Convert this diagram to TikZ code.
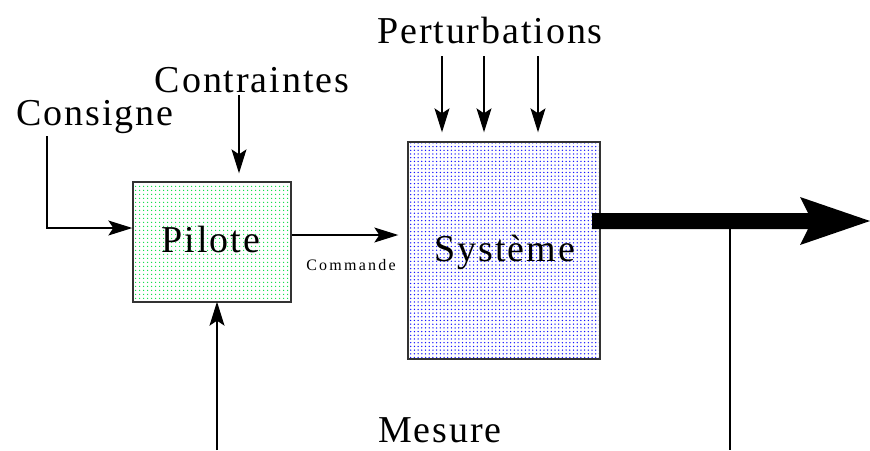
\documentclass[tikz,border=0pt]{standalone}
\usepackage{fontspec}
\setmainfont{Liberation Serif}
\newfontfamily\lblfont{Liberation Serif}[LetterSpace=5]
\newfontfamily\smallfont{Liberation Serif}[LetterSpace=14]
\usetikzlibrary{arrows.meta,patterns.meta}
\definecolor{dotgreen}{RGB}{0,220,60}
\definecolor{dotblue}{RGB}{20,20,255}
\begin{document}
\begin{tikzpicture}[x=1pt,y=-1pt,
  lbl/.style={font=\lblfont\fontsize{38}{40}\selectfont, inner sep=0pt, anchor=base},
  blk/.style={draw=black!80, line width=1.4pt, inner sep=0pt},
  conn/.style={line width=1.2pt, -{Stealth[length=24pt,width=15pt,inset=5pt]}},
  wire/.style={line width=1.2pt},
]
\useasboundingbox (0,0) rectangle (870,450);

% blocks
\node[blk, minimum width=158pt, minimum height=120pt,
  pattern={Dots[distance=4pt,radius=0.85pt]}, pattern color=dotgreen] (pil) at (212,242) {};
\node[lbl] (piltxt) at (211,252) {Pilote};
\node[blk, minimum width=192pt, minimum height=217pt,
  pattern={Dots[distance=3.7pt,radius=0.75pt]}, pattern color=dotblue] (sys) at (504,250.5) {};
\node[lbl] (systxt) at (505,261) {Système};

% labels
\node[lbl] (pert) at (490,43) {Perturbations};
\node[lbl] (ctr) at (252,92) {Contraintes};
\node[lbl] (cons) at (95,125) {Consigne};
\node[lbl] (mes) at (440,442) {Mesure};
\node[font=\smallfont\fontsize{16}{18}\selectfont, inner sep=0pt, anchor=base] (cmd) at (351,270) {Commande};

% free ends of the connectors
\coordinate (consTop) at (47,136);
\coordinate (ctrTop) at (239,95);
\coordinate (p1) at (442,56);
\coordinate (p2) at (484,56);
\coordinate (p3) at (538,56);
\coordinate (tap) at (730,229);
\coordinate (tapBot) at (730,450);
\coordinate (retBot) at (217,450);

% connectors
\draw[conn] (consTop) |- (pil.west |- 0,228);
\draw[conn, shorten >=8pt] (ctrTop) -- (ctrTop |- pil.north);
\foreach \p in {p1,p2,p3}
  \draw[conn, shorten >=9pt] (\p) -- (\p |- sys.north);
\draw[conn, shorten >=9pt] (pil.east |- 0,235) -- (sys.west |- 0,235);
\draw[conn, shorten >=-1pt] (retBot) -- (retBot |- pil.south);
\draw[wire] (tap) -- (tapBot);

% thick output arrow
\fill[black] (592,213) -- (808,213) -- (800,197) -- (870,221) -- (800,245)
  -- (808,229) -- (592,229) -- cycle;
\end{tikzpicture}
\end{document}
